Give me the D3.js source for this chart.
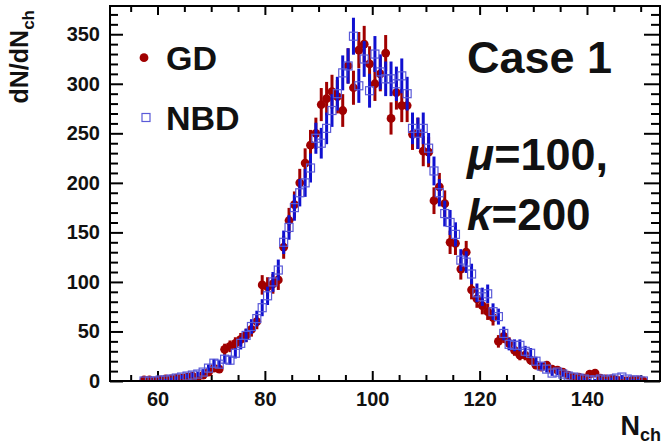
<!DOCTYPE html>
<html>
<head>
<meta charset="utf-8">
<script src="https://cdn.jsdelivr.net/npm/d3@7"></script>
<style>
  html, body { margin: 0; padding: 0; background: #fff; }
  svg { display: block; }
  text { font-family: "Liberation Sans", Arial, Helvetica, sans-serif; font-weight: bold; fill: #111; }
</style>
</head>
<body>
<svg id="chart" width="662" height="444"></svg>
<script>
// ---- data ----
const nch = [57,58,59,60,61,62,63,64,65,66,67,68,69,70,71,72,73,74,75,76,77,78,79,80,81,82,83,84,85,86,87,88,89,90,91,92,93,94,95,96,97,98,99,100,101,102,103,104,105,106,107,108,109,110,111,112,113,114,115,116,117,118,119,120,121,122,123,124,125,126,127,128,129,130,131,132,133,134,135,136,137,138,139,140,141,142,143,144,145,146,147,148,149,150];
const gdValues = [1,1,0,1,2,2,3,3,4,5,4,6,9,13,12,32,35,38,42,46,52,60,97,95,98,102,135,162,178,200,220,238,250,279,285,292,287,273,318,296,334,340,320,300,310,331,265,291,278,278,249,250,232,231,182,196,179,140,139,113,130,92,83,76,70,64,40,45,38,31,26,26,21,16,14,16,12,11,9,6,4,4,3,7,8,3,2,2,1,1,0,1,1,0];
const nbdValues = [0,0,0,1,1,2,3,4,5,6,7,9,13,18,17,22,21,28,38,46,55,63,74,86,100,112,140,155,175,190,200,215,245,240,255,273,290,311,318,348,298,325,293,330,312,305,305,300,308,290,255,250,255,235,212,190,169,160,148,122,120,108,89,85,88,70,65,48,37,36,36,30,28,20,15,12,8,9,7,5,4,3,2,1,1,2,1,2,3,4,2,1,1,0];
const xMajorTicks = [60,80,100,120,140];
const xMinorTicks = [55,65,70,75,85,90,95,105,110,115,125,130,135,145,150];
const yMajorTicks = [0,50,100,150,200,250,300,350];
const yMinorTicks = [10,20,30,40,60,70,80,90,110,120,130,140,160,170,180,190,210,220,230,240,260,270,280,290,310,320,330,340,360,370];
const legendLabels = ["GD","NBD"];

// ---- layout ----
const svg = d3.select("#chart");
const L = 110, R = 660, T = 6, B = 381;
const x = d3.scaleLinear().domain([51.15, 153.6]).range([L, R]);
const y = d3.scaleLinear().domain([0, 378.5]).range([B, T]);

const RED = "#a00000", BLUE = "#1010d0", BLUESQ = "#5a5ad8";

// axes
function styleAxis(g) {
  g.select(".domain").remove();
  g.selectAll(".tick line").attr("stroke", "#000").attr("stroke-width", 2);
  g.selectAll("text").attr("font-size", 20).attr("fill", "#111")
    .attr("font-family", '"Liberation Sans", Arial, sans-serif').attr("font-weight", "bold");
}
svg.append("g").attr("transform", `translate(0,${B})`)
  .call(d3.axisBottom(x).tickValues(xMajorTicks).tickSize(-10).tickPadding(11).tickFormat(d3.format("d")))
  .call(styleAxis);
svg.append("g").attr("transform", `translate(0,${B})`)
  .call(d3.axisBottom(x).tickValues(xMinorTicks).tickSize(-6).tickFormat(""))
  .call(styleAxis);
svg.append("g").attr("transform", `translate(0,${T})`)
  .call(d3.axisTop(x).tickValues(xMajorTicks).tickSize(-9).tickFormat(""))
  .call(styleAxis);
svg.append("g").attr("transform", `translate(0,${T})`)
  .call(d3.axisTop(x).tickValues(xMinorTicks).tickSize(-6).tickFormat(""))
  .call(styleAxis);
svg.append("g").attr("transform", `translate(${L},0)`)
  .call(d3.axisLeft(y).tickValues(yMajorTicks).tickSize(-13).tickPadding(10).tickFormat(d3.format("d")))
  .call(styleAxis);
svg.append("g").attr("transform", `translate(${L},0)`)
  .call(d3.axisLeft(y).tickValues(yMinorTicks).tickSize(-8).tickFormat(""))
  .call(styleAxis);
svg.append("g").attr("transform", `translate(${R},0)`)
  .call(d3.axisRight(y).tickValues(yMajorTicks).tickSize(-16).tickFormat(""))
  .call(styleAxis);
svg.append("g").attr("transform", `translate(${R},0)`)
  .call(d3.axisRight(y).tickValues(yMinorTicks).tickSize(-9).tickFormat(""))
  .call(styleAxis);

// clip
svg.append("clipPath").attr("id", "clip").append("rect")
  .attr("x", L).attr("y", T).attr("width", R - L).attr("height", B - T);

const plot = svg.append("g").attr("clip-path", "url(#clip)");
const gd = nch.map((n, i) => ({ n, v: gdValues[i] }));
const nb = nch.map((n, i) => ({ n, v: nbdValues[i] }));
const cx = d => x(d.n + 0.5);

// GD error bars + markers
plot.append("g").selectAll("line").data(gd.filter(d => d.v > 0)).join("line")
  .attr("x1", cx).attr("x2", cx)
  .attr("y1", d => y(d.v + Math.sqrt(d.v))).attr("y2", d => y(d.v - Math.sqrt(d.v)))
  .attr("stroke", RED).attr("stroke-width", 3);
plot.append("g").selectAll("circle").data(gd).join("circle")
  .attr("cx", cx).attr("cy", d => y(d.v)).attr("r", 4.4).attr("fill", RED);

// NBD error bars + markers
plot.append("g").selectAll("line").data(nb.filter(d => d.v > 0)).join("line")
  .attr("x1", cx).attr("x2", cx)
  .attr("y1", d => y(d.v + Math.sqrt(d.v))).attr("y2", d => y(d.v - Math.sqrt(d.v)))
  .attr("stroke", BLUE).attr("stroke-width", 3);
plot.append("g").selectAll("rect").data(nb).join("rect")
  .attr("x", d => cx(d) - 4).attr("y", d => y(d.v) - 4).attr("width", 8).attr("height", 8)
  .attr("fill", "none").attr("stroke", BLUESQ).attr("stroke-width", 1.2);

// frame
svg.append("rect").attr("x", L).attr("y", T).attr("width", R - L).attr("height", B - T)
  .attr("fill", "none").attr("stroke", "#000").attr("stroke-width", 2);

// axis titles
const yt = svg.append("text").attr("transform", "translate(28,10) rotate(-90)")
  .attr("text-anchor", "end").attr("font-size", 25);
yt.append("tspan").text("dN/dN");
yt.append("tspan").attr("font-size", 17).attr("dy", 6).text("ch");

const xt = svg.append("text").attr("x", 661).attr("y", 440).attr("text-anchor", "end").attr("font-size", 27);
xt.append("tspan").attr("dy", -5).text("N");
xt.append("tspan").attr("font-size", 18).attr("dy", 6).text("ch");

// legend
svg.append("circle").attr("cx", 144).attr("cy", 57.7).attr("r", 4.4).attr("fill", RED);
svg.append("rect").attr("x", 142).attr("y", 113.5).attr("width", 8).attr("height", 8)
  .attr("fill", "none").attr("stroke", BLUESQ).attr("stroke-width", 1.2);
svg.append("text").attr("x", 166).attr("y", 70).attr("font-size", 34).text(legendLabels[0]);
svg.append("text").attr("x", 166).attr("y", 130).attr("font-size", 34).text(legendLabels[1]);

// annotations
svg.append("text").attr("x", 467).attr("y", 73).attr("font-size", 45).attr("fill", "#1a1a1a").text("Case 1");
const m = svg.append("text").attr("x", 467).attr("y", 170).attr("font-size", 45).attr("fill", "#1a1a1a");
m.append("tspan").attr("font-style", "italic").text("μ");
m.append("tspan").text("=100,");
const k = svg.append("text").attr("x", 467).attr("y", 230).attr("font-size", 44).attr("fill", "#1a1a1a");
k.append("tspan").attr("font-style", "italic").text("k");
k.append("tspan").text("=200");
</script>
</body>
</html>
